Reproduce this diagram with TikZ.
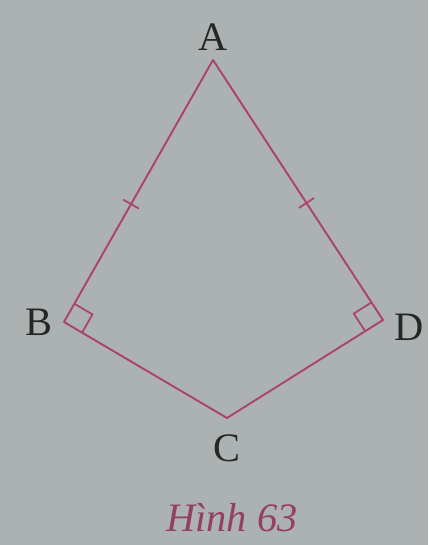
\documentclass[tikz,border=0pt]{standalone}
\usepackage{fontspec}
\setmainfont{Liberation Serif}
\usepackage{xcolor}
\usetikzlibrary{calc}
\definecolor{paper}{RGB}{172,178,178}
\definecolor{kite}{RGB}{172,66,112}
\definecolor{caption}{RGB}{148,64,96}

\begin{document}
\begin{tikzpicture}[every label/.style={font=\fontsize{23}{27}\selectfont, text=black!85}]
            \fill[paper] (0,0) rectangle (8.56,10.9);
            \useasboundingbox (0,0) rectangle (8.56,10.9);
            \coordinate[label={[label distance=2pt]above:A}] (A) at (4.26,9.70);
            \coordinate[label={[label distance=3pt]left:B}] (B) at (1.28,4.46);
            \coordinate[label={[label distance=6pt]below:C}] (C) at (4.54,2.54);
            \coordinate[label={[label distance=3pt, yshift=-4pt]right:D}] (D) at (7.66,4.50);
            \draw[kite, line width=1.1pt, line join=round] (A) -- (B) -- (C) -- (D) -- cycle;
            % right angles at B and D
            \draw[kite, line width=1pt] ($(B)!0.42cm!(A)$) -- ($($(B)!0.42cm!(A)$)+($(B)!0.42cm!(C)$)-(B)$) -- ($(B)!0.42cm!(C)$);
            \draw[kite, line width=1pt] ($(D)!0.42cm!(A)$) -- ($($(D)!0.42cm!(A)$)+($(D)!0.42cm!(C)$)-(D)$) -- ($(D)!0.42cm!(C)$);
            % equal sides AB, AD
            \coordinate (M) at ($(A)!0.55!(B)$);
            \coordinate (N) at ($(A)!0.55!(D)$);
            \draw[kite, line width=1pt] ($(M)!0.18cm!90:(A)$) -- ($(M)!0.18cm!-90:(A)$);
            \draw[kite, line width=1pt] ($(N)!0.18cm!90:(A)$) -- ($(N)!0.18cm!-90:(A)$);
            \node[text=caption, font=\fontsize{23}{27}\selectfont\itshape] (cap) at (4.64,0.55) {Hình 63};
        \end{tikzpicture}
\end{document}
